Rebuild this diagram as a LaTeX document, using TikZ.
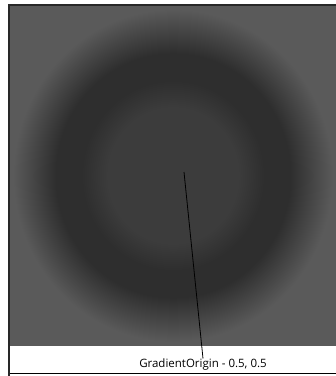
\documentclass[tikz,border=0pt]{standalone}
\usepackage{fontspec}
\setmainfont{Open Sans}
\definecolor{cin}{RGB}{60,60,60}
\definecolor{cring}{RGB}{46,46,46}
\definecolor{cout}{RGB}{90,90,90}
\definecolor{frameline}{RGB}{40,40,40}
\definecolor{baseline}{RGB}{215,215,215}
\pgfdeclareradialshading{bgshade}{\pgfpoint{0bp}{0bp}}{color(0bp)=(cin); color(10bp)=(cin); color(14bp)=(cring); color(18bp)=(cring); color(24.5bp)=(cout); color(50bp)=(cout)}
\tikzset{
  caption/.style={font=\fontsize{11.5}{13}\selectfont, inner sep=0pt, anchor=north},
  pointer/.style={draw=black, line width=0.8pt}
}
\begin{document}
\begin{tikzpicture}[x=1pt,y=-1pt]
\useasboundingbox (0,0) rectangle (336,376);
\fill[white] (0,0) rectangle (336,376);
% shaded panel
\shade[shading=bgshade] (10,6) rectangle (336,345);
% frame lines
\fill[frameline] (8,4) rectangle (336,6);
\fill[frameline] (8,4) rectangle (10,376);
\fill[baseline] (10,373) rectangle (336,374);
% origin and caption
\coordinate (origin) at (184,172);
\node[caption] (label) at (203,358.5) {GradientOrigin - 0.5, 0.5};
\draw[pointer] (origin) -- (label.north);
\end{tikzpicture}
\end{document}
